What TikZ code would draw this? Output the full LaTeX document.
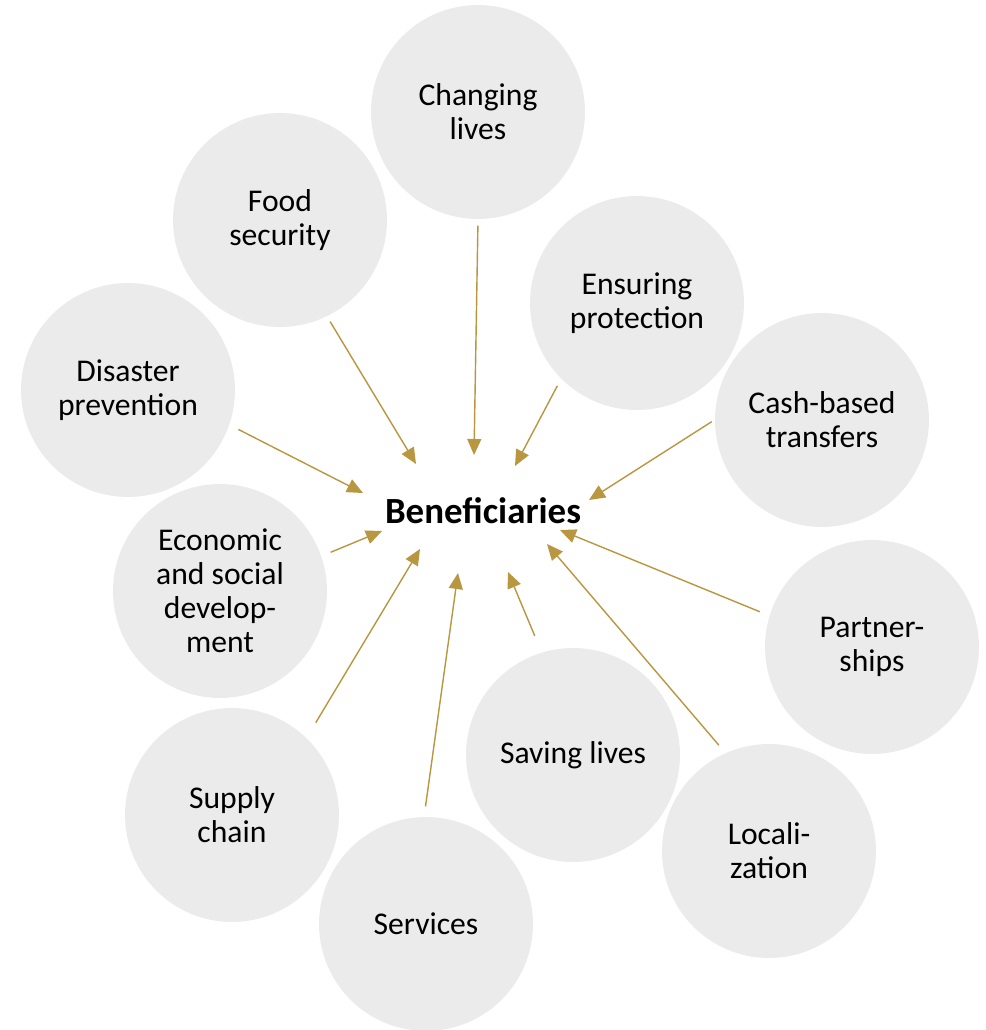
\documentclass[tikz,border=0pt]{standalone}
\usepackage{fontspec}
\setmainfont{Carlito}
\usetikzlibrary{arrows.meta}
\definecolor{gold}{RGB}{185,151,64}
\definecolor{disc}{RGB}{235,235,235}

\begin{document}
\begin{tikzpicture}[x=0.02cm,y=-0.02cm,
>={Triangle[length=3.2mm,width=2.8mm]},line width=.8pt,
topic/.style={circle, fill=disc, minimum size=4.28cm, inner sep=0pt,
  align=center, font=\fontsize{18}{19.4}\selectfont},
feed/.style={->, draw=gold, fill=gold}]
\useasboundingbox (0,0) rectangle (986,1030);

% the circles
\node[topic] (cl) at (478,112) {Changing\\lives};
\node[topic] (fs) at (280,220) {Food\\security};
\node[topic] (ep) at (637,303) {Ensuring\\protection};
\node[topic] (dp) at (128,390) {Disaster\\prevention};
\node[topic] (cb) at (822,420) {Cash-based\\transfers};
\node[topic] (es) at (220,591) {Economic\\and social\\develop-\\ment};
\node[topic] (pa) at (872,647) {Partner-\\ships};
\node[topic] (sl) at (573,755) {Saving lives};
\node[topic] (sc) at (232,815) {Supply\\chain};
\node[topic] (lo) at (769,851) {Locali-\\zation};
\node[topic] (sv) at (426,924) {Services};

\node[font=\fontsize{21}{24}\selectfont\bfseries] (ben) at (483,511) {Beneficiaries};

% arrow tips round the centre
\coordinate (t-cl) at (474,455);
\coordinate (t-fs) at (416,464);
\coordinate (t-ep) at (515,466);
\coordinate (t-dp) at (363,493);
\coordinate (t-cb) at (589,500);
\coordinate (t-es) at (382,531);
\coordinate (t-pa) at (560,530);
\coordinate (t-sc) at (420,549);
\coordinate (t-sv) at (458,573);
\coordinate (t-sl) at (508,572);
\coordinate (t-lo) at (547,544);

% node / leaving angle / gap
\foreach \n/\a/\g in {cl/-90/3.4,fs/-64.8/3.2,ep/-135.7/4.3,dp/-19.5/5.5,
  cb/180/1.7,es/19.5/5.5,pa/163.1/5.7,sc/46.3/9.9,sv/91/5.7,
  sl/107.3/10,lo/114.8/5.5}
  \draw[feed,shorten <=\g pt] (\n.\a) -- (t-\n);

\end{tikzpicture}
\end{document}
